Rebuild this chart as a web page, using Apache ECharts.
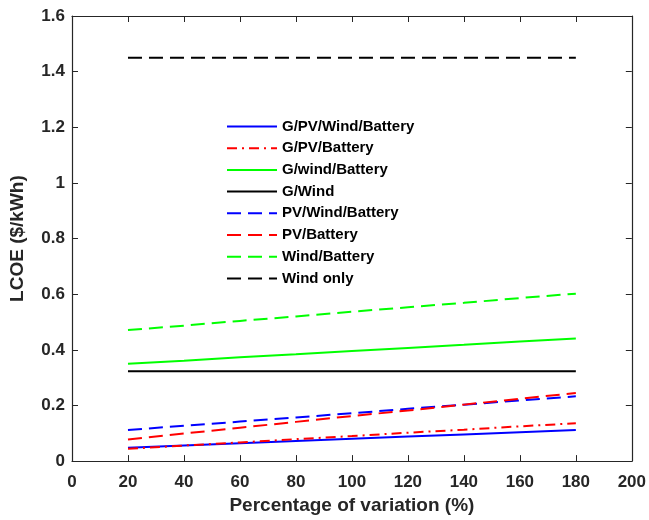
<!DOCTYPE html>
<html>
<head>
<meta charset="utf-8">
<script src="https://cdn.jsdelivr.net/npm/echarts@6/dist/echarts.min.js"></script>
<style>
  html, body {margin: 0; padding: 0; background: #fff;}
  #chart {width: 649px; height: 520px;}
</style>
</head>
<body>
<div id="chart"></div>
<script>
// percentage of variation (%)
const xValues = [20, 40, 60, 80, 100, 120, 140, 160, 180];

const gPvWindBattery = [0.048, 0.056, 0.064, 0.072, 0.080, 0.088, 0.096, 0.104, 0.112];
const gPvBattery     = [0.044, 0.056, 0.067, 0.079, 0.090, 0.102, 0.113, 0.125, 0.136];
const gWindBattery   = [0.350, 0.361, 0.373, 0.384, 0.396, 0.407, 0.418, 0.430, 0.441];
const gWind          = [0.323, 0.323, 0.323, 0.323, 0.323, 0.323, 0.323, 0.323, 0.323];
const pvWindBattery  = [0.112, 0.127, 0.142, 0.157, 0.172, 0.188, 0.203, 0.218, 0.233];
const pvBattery      = [0.078, 0.099, 0.120, 0.141, 0.162, 0.182, 0.203, 0.224, 0.245];
const windBattery    = [0.471, 0.487, 0.504, 0.520, 0.537, 0.553, 0.569, 0.586, 0.602];
const windOnly       = [1.45, 1.45, 1.45, 1.45, 1.45, 1.45, 1.45, 1.45, 1.45];

const seriesNames = ['G/PV/Wind/Battery', 'G/PV/Battery', 'G/wind/Battery', 'G/Wind',
  'PV/Wind/Battery', 'PV/Battery', 'Wind/Battery', 'Wind only'];
const seriesValues = [gPvWindBattery, gPvBattery, gWindBattery, gWind,
  pvWindBattery, pvBattery, windBattery, windOnly];

const styles = [
  {color: '#0000ff', type: 'solid'},
  {color: '#ff0000', type: [10, 5, 2, 5]},
  {color: '#00ff00', type: 'solid'},
  {color: '#000000', type: 'solid'},
  {color: '#0000ff', type: [14, 7]},
  {color: '#ff0000', type: [14, 7]},
  {color: '#00ff00', type: [14, 7]},
  {color: '#000000', type: [14, 7]},
];

const font = 'Liberation Sans, Arial, Helvetica, sans-serif';
const ink = '#262626';

const pair = arr => arr.map((v, i) => [xValues[i], v]);

let myChart = echarts.init(document.getElementById('chart'));

const boxAxis = {
  axisLine: {show: true, onZero: false, lineStyle: {color: ink, width: 1.2}},
  axisTick: {show: true, inside: true, length: 6, lineStyle: {color: ink}},
  splitLine: {show: false},
};

myChart.setOption({
  animation: false,
  backgroundColor: '#fff',
  grid: {left: 69, right: 16, top: 16, bottom: 58, containLabel: false},
  legend: {
    orient: 'vertical',
    left: 226,
    top: 119,
    padding: 0,
    itemWidth: 50,
    itemHeight: 14,
    itemGap: 6.7,
    itemStyle: {opacity: 0},
    textStyle: {fontFamily: font, fontWeight: 'bold', fontSize: 15, color: '#000', lineHeight: 14},
    data: seriesNames,
  },
  xAxis: [{
    type: 'value', min: 0, max: 200, interval: 20,
    name: 'Percentage of variation (%)',
    nameLocation: 'middle', nameGap: 32,
    nameTextStyle: {fontFamily: font, fontWeight: 'bold', fontSize: 19, color: ink},
    axisLabel: {fontFamily: font, fontWeight: 'bold', fontSize: 17, color: ink, margin: 13},
    ...boxAxis,
  }, {
    type: 'value', min: 0, max: 200, interval: 20, position: 'top',
    axisLabel: {show: false},
    ...boxAxis,
  }],
  yAxis: [{
    type: 'value', min: 0, max: 1.6, interval: 0.2,
    name: 'LCOE ($/kWh)',
    nameLocation: 'middle', nameGap: 45,
    nameTextStyle: {fontFamily: font, fontWeight: 'bold', fontSize: 19, color: ink},
    axisLabel: {fontFamily: font, fontWeight: 'bold', fontSize: 17, color: ink, margin: 7},
    ...boxAxis,
  }, {
    type: 'value', min: 0, max: 1.6, interval: 0.2, position: 'right',
    axisLabel: {show: false},
    ...boxAxis,
  }],
  series: seriesNames.map((name, i) => ({
    name,
    type: 'line',
    data: pair(seriesValues[i]),
    symbol: 'none',
    color: styles[i].color,
    lineStyle: {color: styles[i].color, width: 2, type: styles[i].type},
  })),
});
</script>
</body>
</html>
